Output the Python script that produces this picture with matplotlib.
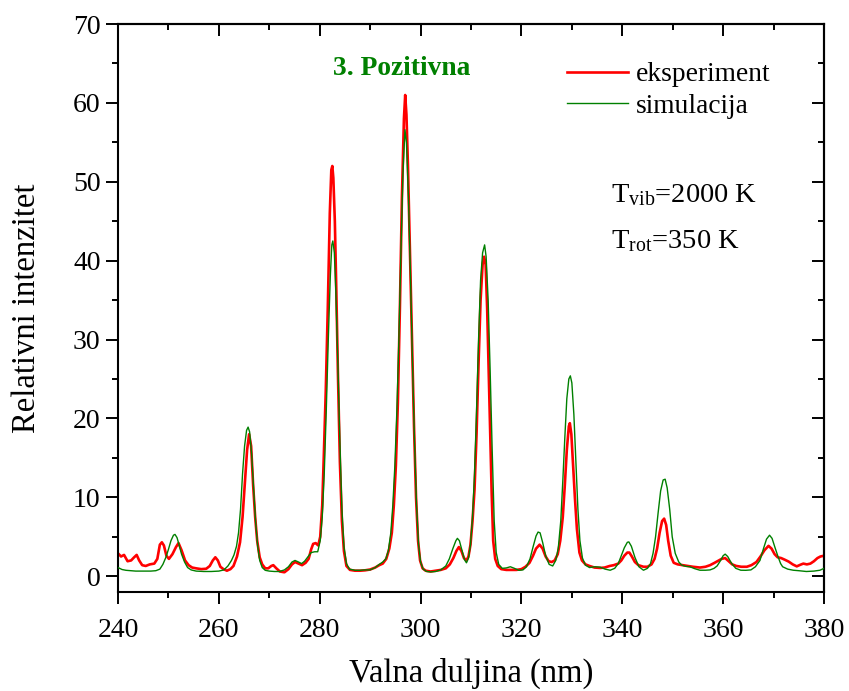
import matplotlib
matplotlib.use("Agg")
import matplotlib.pyplot as plt
from matplotlib.ticker import MultipleLocator

plt.rcParams['font.family'] = ['Liberation Serif', 'DejaVu Serif']
plt.rcParams['mathtext.fontset'] = 'custom'
plt.rcParams['mathtext.rm'] = 'Liberation Serif'
plt.rcParams['mathtext.it'] = 'Liberation Serif:italic'

# ---- data ----
exp_wavelength = [
    240.0, 240.6, 241.2, 241.9, 242.6, 243.2, 243.7, 244.2, 244.8, 245.5, 246.3, 247.2, 247.8,
    248.3, 248.7, 249.1, 249.6, 250.1, 250.8, 251.5, 252.0, 252.6, 253.3, 254.0, 254.7, 255.5,
    256.5, 257.5, 258.2, 258.8, 259.3, 259.8, 260.3, 260.9, 261.6, 262.3, 262.9, 263.6, 264.2,
    264.7, 265.2, 265.6, 266.0, 266.4, 266.8, 267.2, 267.6, 268.1, 268.6, 269.2, 269.8, 270.4,
    270.8, 271.4, 272.1, 273.0, 273.8, 274.5, 275.1, 275.8, 276.5, 277.2, 277.8, 278.3, 278.7,
    279.2, 279.7, 280.1, 280.5, 280.8, 281.2, 281.6, 282.0, 282.3, 282.5, 282.7, 283.0, 283.3,
    283.6, 284.0, 284.4, 284.8, 285.3, 286.0, 287.0, 288.0, 289.0, 290.0, 291.0, 291.8, 292.5,
    293.2, 293.8, 294.3, 294.7, 295.1, 295.5, 295.9, 296.3, 296.7, 296.95, 297.2, 297.5, 297.9,
    298.3, 298.7, 299.1, 299.5, 299.9, 300.4, 301.0, 302.0, 303.0, 304.0, 305.0, 305.8, 306.5,
    307.1, 307.6, 308.1, 308.6, 309.1, 309.5, 309.9, 310.3, 310.7, 311.1, 311.5, 311.9, 312.3,
    312.6, 312.9, 313.2, 313.5, 313.8, 314.1, 314.4, 314.8, 315.3, 316.0, 317.0, 318.0, 319.0,
    320.0, 320.8, 321.6, 322.3, 322.9, 323.6, 324.2, 324.8, 325.4, 326.0, 326.6, 327.2, 327.7,
    328.2, 328.6, 329.0, 329.4, 329.6, 329.9, 330.2, 330.6, 331.0, 331.5, 332.0, 332.7, 333.5,
    334.5, 335.6, 336.5, 337.5, 338.3, 339.2, 339.8, 340.4, 341.0, 341.4, 341.9, 342.5, 343.2,
    344.2, 345.0, 345.8, 346.4, 346.9, 347.4, 347.9, 348.3, 348.7, 349.1, 349.6, 350.2, 351.0,
    352.0, 353.0, 354.0, 355.4, 356.5, 357.4, 358.3, 359.0, 359.7, 360.4, 361.1, 361.8, 362.6,
    363.6, 364.7, 365.6, 366.6, 367.4, 368.2, 369.0, 369.6, 370.2, 370.8, 371.5, 372.2, 373.0,
    373.8, 374.6, 375.3, 375.9, 376.6, 377.3, 378.0, 378.7, 379.3, 380.0,
]
exp_intensity = [
    2.9, 2.5, 2.7, 1.9, 2.0, 2.4, 2.7, 2.0, 1.4, 1.3, 1.5, 1.6, 2.2,
    4.0, 4.3, 3.9, 2.6, 2.2, 2.8, 3.7, 4.2, 3.3, 2.0, 1.4, 1.1, 1.0,
    0.9, 0.95, 1.3, 2.0, 2.4, 2.0, 1.2, 0.9, 0.7, 0.9, 1.3, 2.5, 4.3,
    7.5, 12.2, 16.0, 18.0, 16.5, 11.5, 7.5, 4.5, 2.4, 1.5, 1.0, 1.0, 1.3,
    1.4, 1.0, 0.6, 0.5, 0.9, 1.5, 1.8, 1.6, 1.4, 1.7, 2.2, 3.4, 4.1,
    4.2, 3.9, 5.0, 9.0, 15.0, 23.5, 34.0, 46.0, 51.5, 52.0, 50.5, 45.0, 36.0,
    26.0, 14.5, 7.0, 3.2, 1.3, 0.8, 0.7, 0.7, 0.75, 0.85, 1.1, 1.4, 1.6,
    2.2, 3.5, 5.5, 9.0, 14.0, 22.0, 34.0, 48.0, 58.0, 61.0, 58.5, 52.0, 41.0,
    30.0, 19.0, 10.0, 4.5, 2.0, 1.0, 0.7, 0.6, 0.7, 0.8, 1.0, 1.5, 2.3,
    3.2, 3.7, 3.2, 2.3, 2.0, 2.5, 4.0, 7.0, 11.0, 18.0, 27.0, 35.0, 39.5,
    40.5, 39.5, 34.0, 26.0, 18.0, 10.5, 4.5, 2.2, 1.3, 0.9, 0.8, 0.8, 0.8,
    0.9, 1.2, 1.7, 2.6, 3.5, 4.0, 3.5, 2.5, 1.9, 1.8, 2.0, 2.8, 4.5,
    7.5, 11.5, 16.0, 19.0, 19.4, 18.0, 14.5, 10.0, 6.0, 3.0, 2.0, 1.5, 1.3,
    1.1, 1.05, 1.1, 1.3, 1.4, 1.6, 2.0, 2.6, 3.0, 3.0, 2.5, 1.8, 1.4,
    1.2, 1.2, 1.5, 2.2, 3.5, 5.5, 7.0, 7.3, 6.5, 4.5, 2.6, 1.7, 1.5,
    1.4, 1.3, 1.2, 1.1, 1.2, 1.4, 1.7, 1.95, 2.2, 2.3, 1.9, 1.5, 1.3,
    1.2, 1.2, 1.4, 1.8, 2.5, 3.3, 3.85, 3.5, 2.8, 2.4, 2.3, 2.1, 1.85,
    1.5, 1.25, 1.45, 1.6, 1.5, 1.6, 1.9, 2.3, 2.5, 2.6,
]

sim_wavelength = [
    240.0, 240.8, 241.6, 242.5, 243.5, 245.0, 246.5, 247.5, 248.3, 248.9, 249.5, 250.0, 250.5,
    251.0, 251.3, 251.7, 252.1, 252.6, 253.2, 253.8, 254.5, 255.5, 257.0, 258.5, 260.0, 261.0,
    261.8, 262.5, 263.0, 263.5, 263.9, 264.3, 264.7, 265.1, 265.5, 265.8, 266.1, 266.5, 266.9,
    267.3, 267.7, 268.1, 268.6, 269.2, 270.0, 271.0, 272.0, 273.0, 273.8, 274.5, 275.1, 275.8,
    276.4, 277.0, 277.7, 278.3, 279.0, 279.6, 280.1, 280.5, 280.9, 281.3, 281.7, 282.1, 282.4,
    282.6, 282.9, 283.2, 283.6, 284.0, 284.4, 284.8, 285.3, 285.9, 287.0, 288.0, 289.0, 290.0,
    291.0, 291.8, 292.5, 293.1, 293.6, 294.1, 294.5, 294.9, 295.3, 295.7, 296.1, 296.5, 296.9,
    297.2, 297.6, 298.0, 298.4, 298.8, 299.2, 299.6, 300.0, 300.5, 301.2, 302.0, 303.0, 304.0,
    305.0, 305.7, 306.4, 307.0, 307.3, 307.7, 308.2, 308.7, 309.1, 309.5, 309.9, 310.3, 310.7,
    311.1, 311.5, 311.9, 312.3, 312.7, 313.0, 313.4, 313.8, 314.2, 314.6, 315.0, 315.5, 316.2,
    317.0, 317.8, 318.6, 319.5, 320.3, 321.0, 321.7, 322.3, 322.9, 323.3, 323.7, 324.2, 324.8,
    325.5, 326.2, 326.8, 327.3, 327.8, 328.2, 328.6, 329.0, 329.4, 329.7, 330.0, 330.4, 330.8,
    331.2, 331.6, 332.1, 332.7, 333.5, 334.6, 335.6, 336.6, 337.6, 338.5, 339.2, 339.8, 340.4,
    341.0, 341.3, 341.8, 342.5, 343.3, 344.2, 345.0, 345.6, 346.1, 346.6, 347.1, 347.6, 348.1,
    348.5, 348.9, 349.4, 349.9, 350.5, 351.2, 351.8, 352.6, 353.4, 354.4, 355.4, 356.5, 357.4,
    358.2, 358.8, 359.5, 360.0, 360.4, 360.9, 361.7, 362.5, 363.5, 364.5, 365.5, 366.4, 367.3,
    368.0, 368.6, 369.2, 369.7, 370.3, 370.9, 371.4, 371.8, 372.8, 373.9, 375.0, 376.5, 378.0,
    379.2, 380.0,
]
sim_intensity = [
    1.1, 0.85, 0.75, 0.7, 0.65, 0.65, 0.65, 0.7, 0.9, 1.5, 2.4, 3.4, 4.5,
    5.2, 5.3, 4.9, 4.0, 2.8, 1.8, 1.1, 0.8, 0.65, 0.6, 0.6, 0.65, 0.8,
    1.3, 2.0, 2.7, 3.8, 5.5, 8.5, 13.0, 16.5, 18.5, 18.9, 18.3, 15.5, 11.0,
    6.8, 3.8, 2.0, 1.1, 0.75, 0.65, 0.6, 0.6, 0.8, 1.2, 1.8, 2.0, 1.8,
    1.6, 1.9, 2.5, 3.0, 3.1, 3.1, 4.5, 7.5, 13.0, 21.0, 30.0, 38.0, 42.0,
    42.5, 41.0, 36.0, 27.0, 17.0, 8.5, 3.8, 1.6, 0.9, 0.75, 0.75, 0.8, 0.8,
    1.1, 1.5, 1.8, 2.2, 3.2, 5.5, 9.0, 14.0, 21.0, 30.0, 41.0, 51.0, 56.6,
    55.0, 48.0, 38.0, 27.0, 17.0, 9.0, 4.0, 1.8, 0.9, 0.6, 0.55, 0.6, 0.8,
    1.3, 2.2, 3.5, 4.5, 4.8, 4.5, 3.3, 2.1, 1.7, 2.3, 4.0, 7.5, 13.0,
    21.0, 30.0, 37.5, 41.0, 42.0, 40.5, 35.0, 26.0, 16.0, 7.0, 3.0, 1.5, 1.0,
    1.05, 1.2, 1.0, 0.75, 0.8, 1.2, 2.2, 3.7, 5.1, 5.6, 5.5, 4.3, 2.6,
    1.5, 1.3, 2.0, 3.5, 7.0, 12.0, 17.5, 22.5, 25.0, 25.4, 24.5, 20.5, 14.5,
    8.5, 4.5, 2.3, 1.4, 1.1, 1.2, 1.15, 0.9, 0.76, 1.0, 1.6, 2.6, 3.6,
    4.3, 4.35, 3.8, 2.4, 1.2, 0.76, 1.0, 1.6, 2.9, 5.0, 8.0, 10.8, 12.2,
    12.3, 11.2, 8.5, 5.0, 2.9, 1.8, 1.4, 1.25, 1.2, 0.95, 0.76, 0.76, 0.8,
    1.0, 1.3, 2.0, 2.6, 2.8, 2.5, 1.6, 1.0, 0.76, 0.75, 0.8, 1.2, 2.0,
    3.5, 4.7, 5.2, 4.8, 3.6, 2.45, 1.6, 1.2, 0.9, 0.76, 0.7, 0.6, 0.65,
    0.76, 1.0,
]

series_labels = ["eksperiment", "simulacija"]
x_ticks = [240, 260, 280, 300, 320, 340, 360, 380]
y_ticks = [0, 10, 20, 30, 40, 50, 60, 70]

# ---- figure ----
fig = plt.figure(figsize=(8.49, 6.91), dpi=100)
ax = fig.add_axes([118 / 849, 1 - 592 / 691, 706 / 849, 568 / 691])

ax.plot(exp_wavelength, exp_intensity, color='#ff0000', lw=1.9, label=series_labels[0], zorder=2)
ax.plot(sim_wavelength, sim_intensity, color='#008000', lw=1.0, label=series_labels[1], zorder=3)

ax.set_xlim(240, 380)
ax.set_ylim(-2.0, 70)
ax.set_xticks(x_ticks)
ax.set_yticks(y_ticks)
ax.xaxis.set_minor_locator(MultipleLocator(10))
ax.yaxis.set_minor_locator(MultipleLocator(5))
ax.tick_params(which='both', direction='out', top=False, right=False, width=1.4,
               labelsize=20)
ax.tick_params(axis='x', which='both', pad=10)
ax.tick_params(axis='y', which='both', pad=4)
ax.tick_params(which='major', length=8.5)
ax.tick_params(which='minor', length=4.3)
for s in ax.spines.values():
    s.set_linewidth(1.5)

secx = ax.secondary_xaxis('top')
secx.set_xticks(x_ticks)
secx.xaxis.set_minor_locator(MultipleLocator(10))
secx.tick_params(which='both', direction='in', width=1.4, labeltop=False)
secx.tick_params(which='major', length=8.5)
secx.tick_params(which='minor', length=4.3)
secx.spines['top'].set_linewidth(1.5)

secy = ax.secondary_yaxis('right')
secy.set_yticks(y_ticks)
secy.yaxis.set_minor_locator(MultipleLocator(5))
secy.tick_params(which='both', direction='in', width=1.4, labelright=False)
secy.tick_params(which='major', length=8.5)
secy.tick_params(which='minor', length=4.3)
secy.spines['right'].set_linewidth(1.5)

ax.set_xlabel('Valna duljina (nm)', fontsize=23.5, labelpad=11)
ax.set_ylabel('Relativni intenzitet', fontsize=23.5, labelpad=22)

ax.text(296.3, 64.4, '3. Pozitivna', color='#008000', fontsize=19.8, fontweight='bold',
        ha='center', va='center')

ax.legend(loc='upper left', bbox_to_anchor=(0.636, 0.933), frameon=False, fontsize=19.8,
          handlelength=2.2, handletextpad=0.3, labelspacing=0.22, borderpad=0, borderaxespad=0)

ax.text(0.699, 0.699, r'T$_{\mathrm{vib}}$=2000 K', transform=ax.transAxes, fontsize=20.5,
        ha='left', va='center')
ax.text(0.699, 0.618, r'T$_{\mathrm{rot}}$=350 K', transform=ax.transAxes, fontsize=20.5,
        ha='left', va='center')

fig.savefig('out.png', dpi=100)
